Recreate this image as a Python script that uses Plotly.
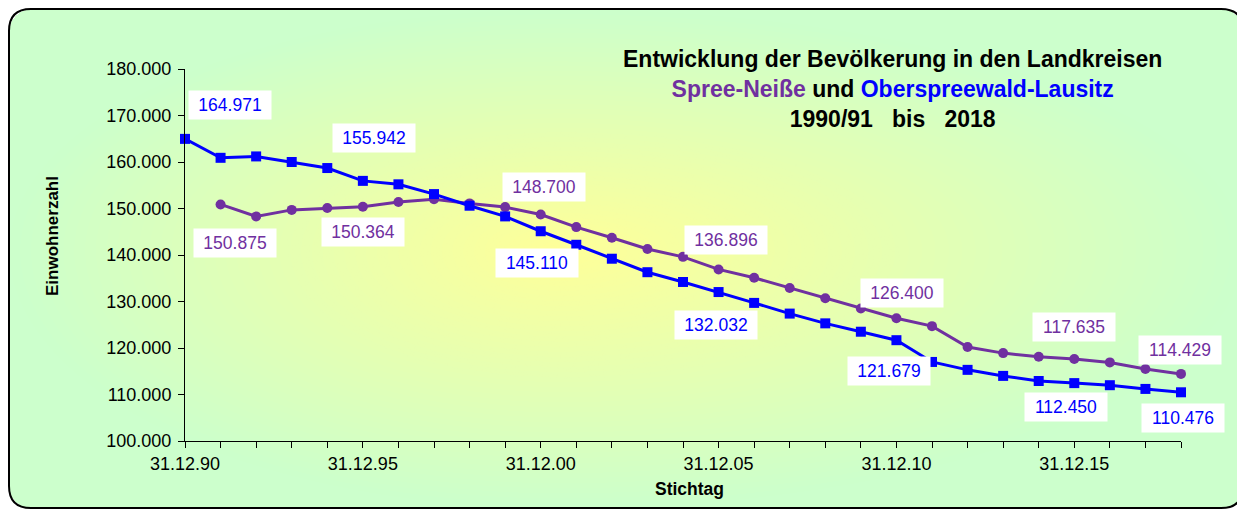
import base64
import struct
import zlib

import numpy as np
import plotly.graph_objects as go

# Daten
jahre_ol = list(range(1990, 2019))
ew_ol = [164971, 160900, 161200, 160000, 158700, 155942, 155200, 153100, 150600, 148300,
         145110, 142200, 139200, 136300, 134200, 132032, 129700, 127400, 125300, 123500,
         121679, 117000, 115300, 114000, 112900, 112450, 112000, 111200, 110476]

jahre_spn = list(range(1991, 2019))
ew_spn = [150875, 148300, 149700, 150100, 150364, 151400, 152000, 151100, 150300, 148700,
          146000, 143700, 141300, 139600, 136896, 135100, 132900, 130700, 128500, 126400,
          124700, 120200, 118900, 118100, 117635, 116900, 115500, 114429]

x_tickvals = [1990, 1995, 2000, 2005, 2010, 2015]
x_ticktext = ['31.12.90', '31.12.95', '31.12.00', '31.12.05', '31.12.10', '31.12.15']
y_tickvals = list(range(100000, 180001, 10000))

# beschriftete Punkte: (Jahr, xshift, yshift)
labels_ol = [(1990, 45, 34), (1995, 11, 43), (2000, -4, -32), (2005, -3, -33),
             (2010, -7, -31), (2015, -8, -24), (2018, 2, -26)]
labels_spn = [(1991, 14, -39), (1995, 0, -25), (2000, 3, 28), (2005, 7, 29),
              (2010, 6, 25), (2015, 0, 32), (2018, -1, 24)]

BLAU = '#0000FF'
LILA = '#7030A0'
FONT = 'Arial, Liberation Sans, sans-serif'
OFF = 8                      # Seitenrand des Browsers
W, H = 1245 - OFF, 510 - OFF


def fmt(v):
    return f'{v:,}'.replace(',', '.')


def px(x, y):
    # Pixel der Vorlage -> Papierkoordinaten
    return (x - OFF) / W, 1 - (y - OFF) / H


# Rahmen (Pixel der Vorlage)
RX0, RX1, RY0, RY1, RR = 9, 1243, 9, 508, 22


# Hintergrund: Verlauf gelb (Mitte) -> grün (Rand), abgerundete Ecken
def hintergrund_png():
    yy, xx = np.mgrid[0:H, 0:W].astype(float)
    xx += OFF
    yy += OFF
    cx, cy = 560, 250
    hx = np.where(xx < cx, cx - RX0, RX1 - cx)
    hy = np.where(yy < cy, cy - RY0, RY1 - cy)
    t = np.sqrt(((xx - cx) / hx) ** 2 + ((yy - cy) / hy) ** 2)
    t = np.clip(t, 0, 1)
    gelb = np.array([255, 255, 153])
    gruen = np.array([204, 255, 204])
    rgb = gelb[None, None, :] * (1 - t[..., None]) + gruen[None, None, :] * t[..., None]
    qx = np.clip(xx, RX0 + RR, RX1 - RR)
    qy = np.clip(yy, RY0 + RR, RY1 - RR)
    inside = (((xx - qx) ** 2 + (yy - qy) ** 2 <= RR * RR)
              & (xx >= RX0) & (xx <= RX1) & (yy >= RY0) & (yy <= RY1))
    a = np.where(inside, 255, 0)
    img = np.dstack([rgb, a]).astype(np.uint8)
    raw = b''.join(b'\x00' + img[i].tobytes() for i in range(H))

    def chunk(tag, data):
        c = tag + data
        return struct.pack('>I', len(data)) + c + struct.pack('>I', zlib.crc32(c) & 0xffffffff)

    png = b'\x89PNG\r\n\x1a\n' + chunk(b'IHDR', struct.pack('>IIBBBBB', W, H, 8, 6, 0, 0, 0))
    png += chunk(b'IDAT', zlib.compress(raw, 9)) + chunk(b'IEND', b'')
    return 'data:image/png;base64,' + base64.b64encode(png).decode()


fig = go.Figure()

fig.add_trace(go.Scatter(
    x=jahre_spn, y=ew_spn, mode='lines+markers', name='Spree-Neiße',
    line=dict(color=LILA, width=3), marker=dict(symbol='circle', size=10, color=LILA),
    cliponaxis=False
))
fig.add_trace(go.Scatter(
    x=jahre_ol, y=ew_ol, mode='lines+markers', name='Oberspreewald-Lausitz',
    line=dict(color=BLAU, width=3), marker=dict(symbol='square', size=10, color=BLAU),
    cliponaxis=False
))

annotations = []
for jahre, werte, labels, farbe in [(jahre_ol, ew_ol, labels_ol, BLAU),
                                    (jahre_spn, ew_spn, labels_spn, LILA)]:
    for jahr, dx, dy in labels:
        v = werte[jahre.index(jahr)]
        annotations.append(dict(
            x=jahr, y=v, xref='x', yref='y', text=fmt(v), showarrow=False,
            xanchor='center', yanchor='middle',
            xshift=dx, yshift=dy, bgcolor='white', width=82, height=28, borderpad=0,
            font=dict(family=FONT, size=17.5, color=farbe)
        ))

# Titel
tx, ty = px(892, 89)
annotations.append(dict(
    x=tx, y=ty, xref='paper', yref='paper', xanchor='center', yanchor='middle',
    showarrow=False, align='center',
    text=('<b>Entwicklung der Bevölkerung in den Landkreisen</b><br>'
          f'<b><span style="color:{LILA}">Spree-Neiße</span> und '
          f'<span style="color:{BLAU}">Oberspreewald-Lausitz</span></b><br>'
          '<b>1990/91&nbsp;&nbsp; bis &nbsp;&nbsp;2018</b>'),
    font=dict(family=FONT, size=23, color='black')
))

# Achsentitel
ax, ay = px(52, 236)
annotations.append(dict(x=ax, y=ay, xref='paper', yref='paper', text='<b>Einwohnerzahl</b>',
                        xanchor='center', yanchor='middle',
                        textangle=-90, showarrow=False, font=dict(family=FONT, size=17, color='black')))
sx, sy = px(689, 489)
annotations.append(dict(x=sx, y=sy, xref='paper', yref='paper', text='<b>Stichtag</b>',
                        xanchor='center', yanchor='middle',
                        showarrow=False, font=dict(family=FONT, size=17.5, color='black')))

# Rahmen mit runden Ecken
pts = [(RX0 + RR, RY0), (RX1 - RR, RY0), (RX1, RY0), (RX1, RY0 + RR), (RX1, RY1 - RR),
       (RX1, RY1), (RX1 - RR, RY1), (RX0 + RR, RY1), (RX0, RY1), (RX0, RY1 - RR),
       (RX0, RY0 + RR), (RX0, RY0), (RX0 + RR, RY0)]
p = [px(*q) for q in pts]
path = (f'M {p[0][0]},{p[0][1]} L {p[1][0]},{p[1][1]} Q {p[2][0]},{p[2][1]} {p[3][0]},{p[3][1]} '
        f'L {p[4][0]},{p[4][1]} Q {p[5][0]},{p[5][1]} {p[6][0]},{p[6][1]} '
        f'L {p[7][0]},{p[7][1]} Q {p[8][0]},{p[8][1]} {p[9][0]},{p[9][1]} '
        f'L {p[10][0]},{p[10][1]} Q {p[11][0]},{p[11][1]} {p[12][0]},{p[12][1]} Z')

xd0, _ = px(185, 0)
xd1, _ = px(1181, 0)
_, yd1 = px(0, 69)
_, yd0 = px(0, 441)

fig.update_layout(
    width=W, height=H,
    margin=dict(l=0, r=0, t=0, b=0, pad=0, autoexpand=False),
    paper_bgcolor='white', plot_bgcolor='rgba(0,0,0,0)',
    showlegend=False,
    separators=',.',
    font=dict(family=FONT, size=18, color='black'),
    images=[dict(source=hintergrund_png(), xref='paper', yref='paper', x=0, y=1,
                 sizex=1, sizey=1, xanchor='left', yanchor='top', sizing='stretch', layer='below')],
    shapes=[dict(type='path', path=path, xref='paper', yref='paper',
                 line=dict(color='black', width=2), layer='below')],
    annotations=annotations,
    xaxis=dict(
        domain=[xd0, xd1], range=[1990, 2018], automargin=False,
        tickvals=x_tickvals, ticktext=x_ticktext,
        ticks='outside', ticklen=6, tickcolor='black',
        minor=dict(dtick=1, ticks='outside', ticklen=6, tickcolor='black', tick0=1990),
        showline=True, linecolor='black', linewidth=1, showgrid=False, zeroline=False,
        tickfont=dict(size=18)
    ),
    yaxis=dict(
        domain=[yd0, yd1], range=[100000, 180000], automargin=False,
        tickvals=y_tickvals, tickformat=',.0f',
        ticks='outside', ticklen=6, tickcolor='black', ticklabelstandoff=3,
        showline=True, linecolor='black', linewidth=1, showgrid=False, zeroline=False,
        tickfont=dict(size=18)
    )
)

fig.write_html('out.html')
